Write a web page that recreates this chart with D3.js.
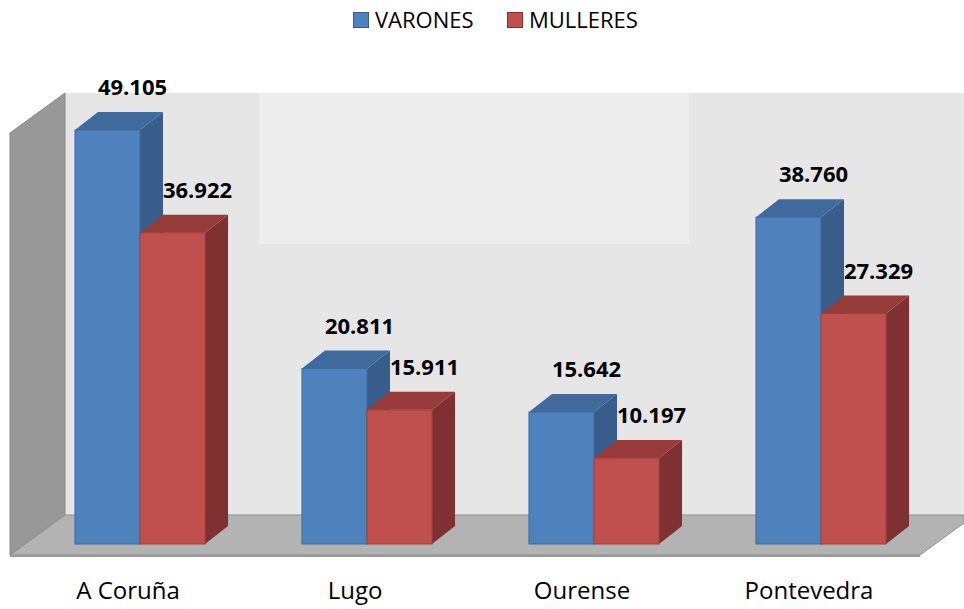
<!DOCTYPE html>
<html>
<head>
<meta charset="utf-8">
<script src="https://cdn.jsdelivr.net/npm/d3@7"></script>
<style>
  html, body { margin: 0; padding: 0; background: #fff; }
  svg { display: block; font-family: 'Open Sans', sans-serif; }
</style>
</head>
<body>
<svg id="chart" width="964" height="609"></svg>
<script>
(function () {
  'use strict';

  const categories = ['A Coruña', 'Lugo', 'Ourense', 'Pontevedra'];
  const seriesNames = ['VARONES', 'MULLERES'];
  const varones = [49105, 20811, 15642, 38760];
  const mulleres = [36922, 15911, 10197, 27329];
  const valueLabels = [
    ['49.105', '20.811', '15.642', '38.760'],
    ['36.922', '15.911', '10.197', '27.329'],
  ];

  const colors = {
    VARONES: { front: '#4f81bd', side: '#385d8a', top: '#3f6a9b', stroke: '#3d6a9e' },
    MULLERES: { front: '#c0504d', side: '#7e3130', top: '#953c3a', stroke: '#9e403d' },
  };

  const svg = d3.select('#chart');

  // depth of the wall/floor and of each bar
  const WALL_DX = 55, WALL_DY = -40;
  const BAR_DX = 23, BAR_DY = -18;
  const BASE = 544;

  const x0 = d3.scaleBand()
    .domain(categories)
    .range([26.5, 934.5])
    .paddingInner(0.427)
    .paddingOuter(0.2135);
  const x1 = d3.scaleBand()
    .domain(seriesNames)
    .range([0, x0.bandwidth()]);
  const y = d3.scaleLinear()
    .domain([0, 60000])
    .range([BASE, BASE - 60000 * 414 / 49105]);

  // walls
  const wallLeft = 65, wallTop = 93, wallBottom = 515;
  const g = svg.append('g');
  g.append('rect')
    .attr('x', wallLeft).attr('y', wallTop)
    .attr('width', 964 - wallLeft).attr('height', wallBottom - wallTop)
    .attr('fill', '#e6e6e6');
  g.append('rect')
    .attr('x', 259).attr('y', wallTop)
    .attr('width', 430).attr('height', 151)
    .attr('fill', '#ededed');
  g.append('path')
    .attr('d', `M${wallLeft + WALL_DX * -1},${wallTop - WALL_DY}L${wallLeft},${wallTop}L${wallLeft},${wallBottom}L${wallLeft - WALL_DX},${wallBottom - WALL_DY}Z`)
    .attr('fill', '#989898')
    .attr('stroke', '#8a8a8a').attr('stroke-width', 1);
  const fb = wallBottom - WALL_DY;
  g.append('path')
    .attr('d', `M${wallLeft - WALL_DX},${fb}L${wallLeft},${wallBottom}L964,${wallBottom}L964,${wallBottom + 8}L${964 - 44},${fb}Z`)
    .attr('fill', '#b3b3b3')
    .attr('stroke', '#8f8f8f').attr('stroke-width', 1);
  g.append('line')
    .attr('x1', wallLeft - WALL_DX).attr('x2', 920)
    .attr('y1', fb + 1).attr('y2', fb + 1)
    .attr('stroke', '#9a9a9a').attr('stroke-width', 2);

  // bars
  const rows = [];
  categories.forEach((c, i) => {
    rows.push({ cat: c, s: 'VARONES', v: varones[i], label: valueLabels[0][i] });
    rows.push({ cat: c, s: 'MULLERES', v: mulleres[i], label: valueLabels[1][i] });
  });

  const bars = svg.append('g').selectAll('g').data(rows).enter().append('g');
  bars.each(function (d) {
    const el = d3.select(this);
    const xl = x0(d.cat) + x1(d.s);
    const xr = xl + x1.bandwidth();
    const yt = y(d.v);
    const c = colors[d.s];
    el.append('path')
      .attr('d', `M${xr},${yt}L${xr + BAR_DX},${yt + BAR_DY}L${xr + BAR_DX},${BASE + BAR_DY}L${xr},${BASE}Z`)
      .attr('fill', c.side);
    el.append('path')
      .attr('d', `M${xl},${yt}L${xl + BAR_DX},${yt + BAR_DY}L${xr + BAR_DX},${yt + BAR_DY}L${xr},${yt}Z`)
      .attr('fill', c.top);
    el.append('rect')
      .attr('x', xl).attr('y', yt)
      .attr('width', xr - xl).attr('height', BASE - yt)
      .attr('fill', c.front)
      .attr('stroke', c.stroke).attr('stroke-width', 1);
  });

  // value labels
  svg.append('g').selectAll('text').data(rows).enter().append('text')
    .attr('x', d => x0(d.cat) + x1(d.s) + x1.bandwidth() / 2 + 25)
    .attr('y', d => y(d.v) - 35)
    .attr('text-anchor', 'middle')
    .attr('font-size', 22)
    .attr('font-weight', 'bold')
    .attr('fill', '#000')
    .text(d => d.label);

  // category labels
  svg.append('g').selectAll('text').data(categories).enter().append('text')
    .attr('x', d => x0(d) + x0.bandwidth() / 2 - 12)
    .attr('y', 599)
    .attr('text-anchor', 'middle')
    .attr('font-size', 24)
    .attr('fill', '#000')
    .text(d => d);

  // legend
  const legendX = [353, 507];
  const legend = svg.append('g').selectAll('g').data(seriesNames).enter().append('g')
    .attr('transform', (d, i) => `translate(${legendX[i]},12)`);
  legend.append('rect')
    .attr('x', 0.5).attr('y', 0.5).attr('width', 15).attr('height', 15)
    .attr('fill', d => colors[d].front)
    .attr('stroke', d => colors[d].side);
  legend.append('text')
    .attr('x', 22).attr('y', 16)
    .attr('font-size', 22)
    .attr('fill', '#000')
    .text(d => d);
}());
</script>
</body>
</html>
